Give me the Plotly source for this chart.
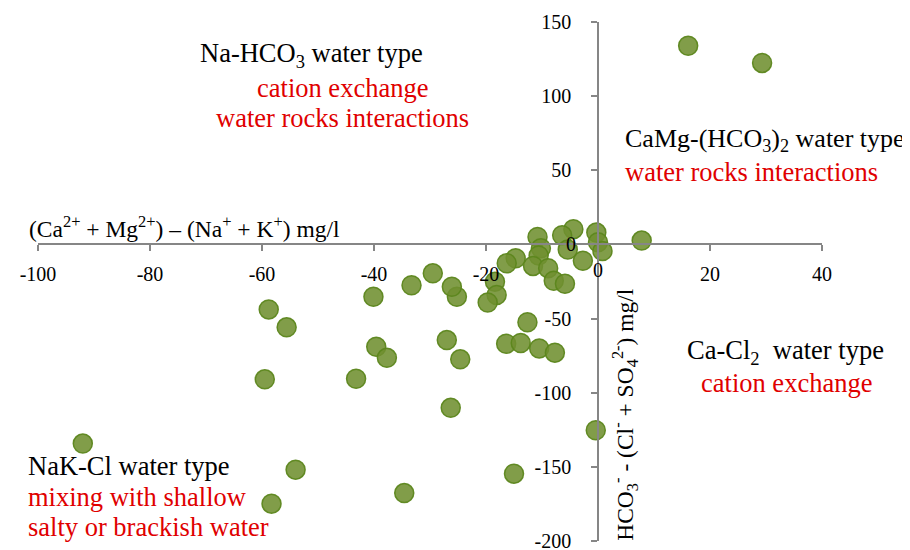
import plotly.graph_objects as go

# (Ca + Mg) - (Na + K), mg/l
cation_diff = [
    16.1, 29.3, 7.8,
    -0.3, 0.0, 0.8, -2.7, -4.4, -6.4, -5.4, -10.8, -10.2, -10.6, -11.6, -8.9,
    -7.9, -5.9, -14.7, -16.3,
    -18.4, -18.1, -19.7, -25.2, -26.1, -29.5, -33.3, -40.1,
    -58.8, -55.6, -39.6, -37.7, -59.5, -43.2, -27.0, -24.6, -26.3,
    -92.0, -54.0, -58.3, -34.6, -0.4, -15.0,
    -12.6, -16.4, -13.8, -10.5, -7.7,
]

# HCO3 - (Cl + SO4), mg/l
anion_diff = [
    134.0, 122.4, 2.6,
    8.0, 1.5, -4.5, -11.0, 10.3, 6.2, -3.5, 5.0, -2.5, -7.5, -14.5, -16.0,
    -24.5, -26.5, -9.3, -12.7,
    -25.1, -34.1, -39.2, -35.3, -28.5, -19.5, -27.5, -35.3,
    -43.8, -55.9, -69.0, -76.5, -91.0, -90.6, -64.5, -77.5, -110.2,
    -134.3, -151.9, -174.8, -167.7, -125.3, -154.6,
    -52.5, -67.0, -66.5, -70.1, -73.0,
]

x_ticks = [-100, -80, -60, -40, -20, 0, 20, 40]
x_tick_labels = ['-100', '-80', '-60', '-40', '-20', '0', '20', '40']
y_ticks = [-200, -150, -100, -50, 0, 50, 100, 150]
y_tick_labels = ['-200', '-150', '-100', '-50', '0', '50', '100', '150']

x_range = [-100, 40]
y_range = [-200, 150]

FONT = 'Times New Roman'
AXIS_GRAY = '#868686'
RED = '#E00000'

fig = go.Figure()

fig.add_trace(go.Scatter(
    x=cation_diff,
    y=anion_diff,
    mode='markers',
    marker=dict(
        size=19,
        color='rgba(112,144,48,0.88)',
        line=dict(color='rgba(92,134,28,0.95)', width=1.5)
    ),
    showlegend=False,
    hoverinfo='x+y'
))

# texto dos quadrantes: (x, y, texto, cor, tamanho)
labels = [
    (-71.4, 127.8, 'Na-HCO<sub>3</sub> water type', 'black', 26.5),
    (-61.3, 105.5, 'cation exchange', RED, 26.5),
    (-68.6, 85.3, 'water rocks interactions', RED, 26.5),
    (4.5, 70.5, 'CaMg-(HCO<sub>3</sub>)<sub>2</sub> water type', 'black', 26),
    (4.5, 48.9, 'water rocks interactions', RED, 26.5),
    (15.5, -72.5, 'Ca-Cl<sub>2</sub>\u00a0 water type', 'black', 26.5),
    (18.0, -93.4, 'cation exchange', RED, 26.5),
    (-100, -149.4, 'NaK-Cl water type', 'black', 26.5),
    (-100, -170.3, 'mixing with shallow', RED, 26.5),
    (-100, -190.5, 'salty or brackish water', RED, 26.5),
]
for lx, ly, txt, col, fs in labels:
    fig.add_annotation(
        x=lx, y=ly, xref='x', yref='y', text=txt, showarrow=False,
        xanchor='left', yanchor='middle',
        xshift=-12 if lx <= x_range[0] else 0,
        font=dict(family=FONT, size=fs, color=col)
    )

# titulos dos eixos
fig.add_annotation(
    x=-100, y=0, xref='x', yref='y', xshift=-11,
    text='(Ca<sup>2+</sup> + Mg<sup>2+</sup>) \u2013 (Na<sup>+</sup> + K<sup>+</sup>) mg/l',
    showarrow=False, xanchor='left', yanchor='bottom', yshift=0,
    font=dict(family=FONT, size=23.5, color='black')
)
fig.add_annotation(
    x=4.8, y=-114.3, xref='x', yref='y',
    text='HCO<sub>3</sub><sup>-</sup> - (Cl<sup>-</sup> + SO<sub>4</sub><sup>2-</sup>) mg/l',
    showarrow=False, textangle=-90, xanchor='center', yanchor='middle',
    font=dict(family=FONT, size=23.5, color='black')
)

# o "0" dos dois eixos fica por cima dos pontos
fig.add_annotation(
    x=0, y=0, xref='x', yref='y', text=x_tick_labels[x_ticks.index(0)],
    showarrow=False, xanchor='center', yanchor='middle', yshift=-26,
    font=dict(family=FONT, size=20, color='black')
)
fig.add_annotation(
    x=0, y=0, xref='x', yref='y', text=y_tick_labels[y_ticks.index(0)],
    showarrow=False, xanchor='right', yanchor='middle', xshift=-20,
    font=dict(family=FONT, size=20, color='black')
)

# a pagina tem 8px de margem no body
fig.update_layout(
    width=910,
    height=550,
    margin=dict(l=30, r=96, t=14, b=17),
    plot_bgcolor='white',
    paper_bgcolor='white',
    font=dict(family=FONT, size=20, color='black'),
    showlegend=False
)

# eixos cruzando em (0, 0)
fig.update_xaxes(
    range=x_range, tickvals=x_ticks,
    ticktext=[t if v != 0 else '' for v, t in zip(x_ticks, x_tick_labels)],
    showgrid=False, zeroline=False,
    showline=True, linecolor=AXIS_GRAY, linewidth=1.6,
    ticks='outside', ticklen=6, tickwidth=1.6, tickcolor=AXIS_GRAY,
    ticklabelstandoff=6, ticklabeloverflow='allow',
    anchor='free', position=(0 - y_range[0]) / (y_range[1] - y_range[0]),
    tickfont=dict(family=FONT, size=20, color='black'),
    automargin=False
)
fig.update_yaxes(
    range=y_range, tickvals=y_ticks,
    ticktext=[t if v != 0 else '' for v, t in zip(y_ticks, y_tick_labels)],
    showgrid=False, zeroline=False,
    showline=True, linecolor=AXIS_GRAY, linewidth=1.6,
    ticks='outside', ticklen=6, tickwidth=1.6, tickcolor=AXIS_GRAY,
    ticklabelstandoff=16, ticklabeloverflow='allow',
    anchor='free', position=(0 - x_range[0]) / (x_range[1] - x_range[0]),
    tickfont=dict(family=FONT, size=20, color='black'),
    automargin=False
)

fig.write_html("out.html")
